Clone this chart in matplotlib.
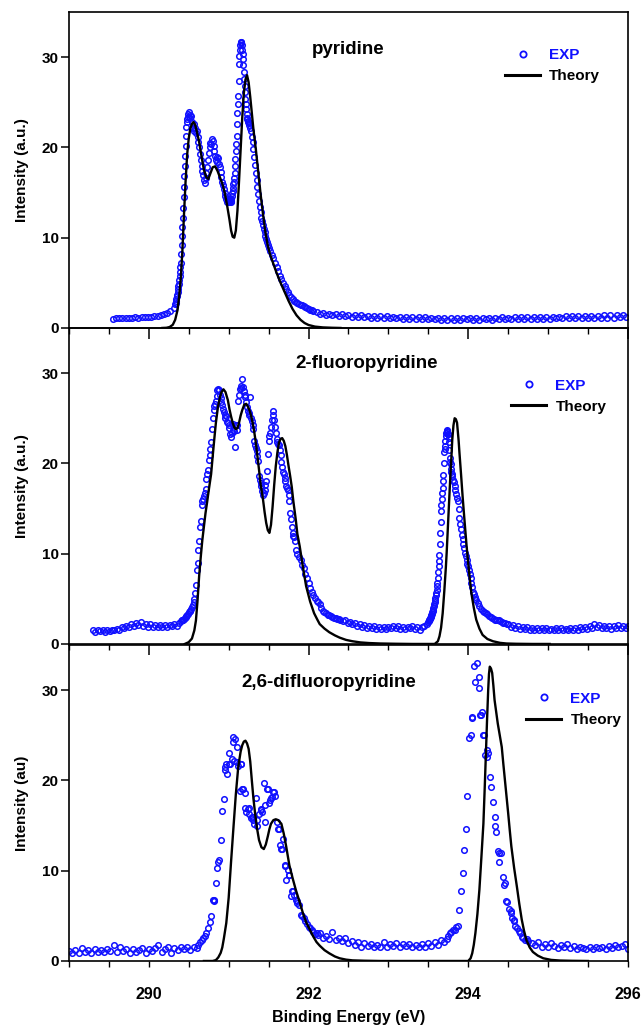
import numpy as np
import matplotlib.pyplot as plt
from matplotlib.lines import Line2D
from matplotlib.ticker import MultipleLocator

plt.rcParams['font.family'] = ['Liberation Sans', 'DejaVu Sans']
plt.rcParams['font.weight'] = 'bold'

# ---------------- pyridine ----------------
# experimental points, stored as (start, step, values) segments
pyr_seg_base_l = (289.55, 0.04, [1.00, 1.10, 1.05, 1.15, 1.05, 1.15, 1.10, 1.20, 1.15, 1.20,
                                 1.20, 1.25, 1.25, 1.30, 1.35, 1.40, 1.50, 1.65, 1.85, 2.20])
pyr_seg_rise = (290.33, 0.005, [2.6, 2.8, 3.0, 3.2, 3.5, 3.7, 4.0, 4.3, 4.6, 4.9,
                                5.3, 5.7, 6.2, 6.7, 7.2, 8.2, 9.2, 10.2, 11.2, 12.2,
                                13.3, 14.5, 15.6, 16.8, 17.9, 19.0, 20.2, 21.3, 22.3, 22.8,
                                23.1, 23.4, 23.7])
pyr_seg_mid = (290.50, 0.01, [23.9, 23.6, 23.2, 23.5, 22.8, 22.2, 22.6, 21.8, 22.2, 21.6,
                              21.8, 21.2, 20.6, 20.0, 19.3, 18.6, 17.9, 17.4, 16.9, 16.4,
                              16.1, 16.6, 17.2, 17.8, 18.6, 19.4, 20.0, 20.5, 20.4, 20.9,
                              20.7, 20.2, 19.6, 19.0, 18.6, 18.9, 18.4, 18.8, 18.2, 17.8,
                              17.3, 16.7, 16.2, 15.8, 15.4, 15.0, 14.6, 14.3, 14.0, 14.2])
pyr_seg_peak = (291.00, 0.005, [13.9, 14.0, 14.1, 14.2, 14.3, 14.1, 14.0, 14.3, 14.6, 14.9,
                                15.2, 15.5, 15.9, 16.2, 16.6, 17.2, 17.9, 18.7, 19.6, 20.4,
                                21.3, 22.6, 23.8, 24.8, 25.7, 27.4, 29.2, 30.1, 30.8, 31.3,
                                31.6, 31.7, 31.7, 31.3, 30.8, 30.3, 29.8, 29.1, 28.4, 27.6,
                                26.8, 26.1, 25.4, 24.8, 24.2, 23.7, 23.3, 23.1, 22.9, 22.8])
pyr_seg_fall = (291.25, 0.01, [22.7, 22.5, 22.2, 21.8, 21.2, 20.6, 19.8, 18.9, 18.0, 17.2,
                               16.4, 15.6, 14.8, 14.1, 13.4, 12.8, 12.2, 11.8, 11.4, 11.0,
                               10.6, 10.2, 9.8, 9.5, 9.2, 8.9])
pyr_seg_tail = (291.52, 0.02, [8.5, 8.1, 7.7, 7.2, 6.7, 6.3, 5.8, 5.4, 5.0, 4.6,
                               4.3, 4.0, 3.7, 3.4, 3.2, 3.0, 2.9, 2.8, 2.7, 2.55,
                               2.5, 2.4, 2.3, 2.2, 2.1, 2.0, 1.95, 1.85])
pyr_seg_base_r = (292.10, 0.04, [1.75, 1.55, 1.70, 1.45, 1.60, 1.40, 1.55, 1.35, 1.50, 1.30,
                                 1.45, 1.25, 1.45, 1.20, 1.40, 1.20, 1.35, 1.15, 1.35, 1.10,
                                 1.30, 1.10, 1.30, 1.05, 1.25, 1.05, 1.25, 1.00, 1.25, 1.00,
                                 1.20, 0.95, 1.20, 0.95, 1.20, 0.95, 1.15, 0.95, 1.15, 0.90,
                                 1.15, 0.90, 1.15, 0.90, 1.15, 0.90, 1.15, 0.95, 1.15, 0.90,
                                 1.15, 0.90, 1.15, 0.95, 1.15, 0.90, 1.15, 0.95, 1.20, 0.95,
                                 1.15, 0.95, 1.20, 0.95, 1.20, 0.95, 1.20, 1.00, 1.20, 1.00,
                                 1.25, 1.00, 1.25, 1.00, 1.25, 1.05, 1.25, 1.05, 1.30, 1.05,
                                 1.30, 1.05, 1.30, 1.10, 1.35, 1.10, 1.35, 1.10, 1.35, 1.15,
                                 1.40, 1.15, 1.40, 1.15, 1.40, 1.20, 1.45, 1.25])
pyr_extra_e = []
pyr_extra_i = []

pyr_th_e = [290.17, 290.22, 290.26, 290.30, 290.33, 290.36, 290.38, 290.40, 290.42, 290.44,
            290.46, 290.48, 290.50, 290.52, 290.54, 290.56, 290.58, 290.60, 290.63, 290.66,
            290.69, 290.72, 290.745, 290.77, 290.80, 290.83, 290.86, 290.89, 290.92, 290.95,
            290.98, 291.01, 291.03, 291.05, 291.07, 291.09, 291.11, 291.13, 291.15, 291.17,
            291.19, 291.21, 291.23, 291.25, 291.27, 291.29, 291.31, 291.34, 291.37, 291.40,
            291.43, 291.46, 291.49, 291.52, 291.56, 291.60, 291.65, 291.70, 291.75, 291.80,
            291.85, 291.90, 291.95, 292.00, 292.08, 292.18, 292.30, 292.40]
pyr_th_i = [0.0, 0.02, 0.1, 0.35, 0.9, 2.0, 3.5, 5.5, 8.5, 12.5,
            16.2, 19.2, 21.0, 22.1, 22.6, 22.8, 22.5, 21.8, 20.6, 19.0,
            17.5, 16.7, 16.5, 17.1, 17.8, 17.9, 17.4, 16.7, 16.0, 15.0,
            13.6, 12.0, 10.8, 10.1, 10.0, 10.8, 13.0, 16.3, 19.8, 23.3,
            26.0, 27.5, 28.0, 27.2, 25.6, 23.8, 22.0, 19.8, 17.3, 14.8,
            12.6, 10.6, 9.1, 8.1, 7.1, 6.1, 5.0, 4.0, 3.0, 2.1,
            1.4, 0.9, 0.55, 0.33, 0.15, 0.06, 0.02, 0.0]

# ---------------- 2-fluoropyridine ----------------
fp_seg_base_l = (289.30, 0.03, [1.5, 1.3, 1.6, 1.4, 1.5, 1.3, 1.6, 1.4, 1.6, 1.5,
                                1.7, 1.6, 1.9, 1.8, 2.0, 1.9, 2.2, 2.0, 2.3, 2.1,
                                2.4, 2.0, 2.2, 1.9, 2.2, 1.9, 2.1, 1.9, 2.1, 1.9,
                                2.1, 1.9, 2.1, 2.0, 2.2, 2.0, 2.3])
fp_seg_peaks = (290.40, 0.01, [2.5, 2.6, 2.7, 2.6, 2.8, 2.9, 3.0, 3.1, 3.2, 3.3,
                               3.5, 3.6, 3.7, 3.9, 4.1, 4.3, 4.6, 5.0, 5.6, 6.5,
                               8.2, 9.0, 10.4, 11.4, 13.0, 13.6, 15.4, 15.8, 16.0, 16.4,
                               16.7, 17.2, 18.3, 18.8, 19.3, 20.4, 20.9, 21.6, 22.4, 23.8,
                               25.0, 25.9, 26.4, 26.6, 26.9, 27.5, 28.1, 28.2, 28.1, 27.6,
                               27.2, 26.8, 26.5, 26.0, 25.7, 25.4, 25.0, 25.2, 24.6, 24.5,
                               24.2, 23.9, 23.3, 22.9, 23.4, 23.7, 24.4, 23.6, 21.8, 24.2,
                               23.7, 24.3, 26.9, 27.6, 28.2, 28.6, 28.4, 29.3, 28.5, 28.0,
                               27.6, 27.3, 26.8, 26.2, 25.8, 25.6, 25.4, 27.4, 25.0, 24.7,
                               24.2, 23.8, 22.5, 22.0, 21.7, 21.4, 20.8, 20.3, 18.6, 18.2,
                               17.8, 17.5, 16.9, 16.5, 16.7, 17.1, 17.6, 18.1, 19.2, 21.0,
                               22.5, 23.0, 23.4, 24.0, 24.8, 25.8, 25.4, 24.8, 24.0, 23.4,
                               22.7, 22.4, 22.2, 22.0, 21.5, 20.9, 20.2, 19.6, 19.1, 18.8,
                               18.4, 18.0, 17.5, 17.3, 17.1, 16.5, 15.8, 14.5, 13.8, 13.0,
                               12.3, 12.0, 11.8, 11.4, 10.4])
fp_seg_tail1 = (291.86, 0.02, [10.0, 9.6, 9.3, 8.8, 8.4, 7.8, 7.3, 6.7, 6.2, 5.8,
                               5.4, 5.1, 4.8, 4.6, 4.4, 4.0, 3.7, 3.5, 3.4, 3.2,
                               3.2, 3.1, 3.0, 2.9, 2.9, 2.8, 2.8, 2.7])
fp_seg_base_m = (292.43, 0.03, [2.5, 2.6, 2.3, 2.4, 2.2, 2.3, 2.0, 2.2, 1.9, 2.1,
                                1.8, 2.0, 1.8, 2.0, 1.7, 1.9, 1.7, 1.9, 1.7, 1.9,
                                1.8, 2.0, 1.8, 2.0, 1.7, 1.9, 1.7, 1.9, 1.8, 2.0,
                                1.7, 1.9, 1.6, 1.9, 2.0, 2.2])
fp_seg_rise2 = (293.50, 0.005, [2.4, 2.5, 2.6, 2.7, 2.8, 2.9, 3.0, 3.1, 3.2, 3.35,
                                3.5, 3.65, 3.8, 4.0, 4.2, 4.4, 4.6, 4.9, 5.1, 5.4,
                                5.6, 6.0, 6.4, 6.8, 7.3, 8.0, 8.6, 9.2, 9.9, 11.1,
                                12.3, 13.5, 14.7, 15.4, 16.0, 16.7, 17.3, 18.0, 18.7, 20.0,
                                21.3, 21.6, 21.9, 22.5, 23.0, 23.4, 23.7, 23.6, 23.5, 23.3,
                                23.2, 22.8, 22.4, 21.5, 20.6, 20.2, 19.9, 19.4, 19.0, 18.8])
fp_seg_fall2 = (293.80, 0.01, [18.6, 18.2, 17.9, 17.5, 17.1, 16.6, 16.2, 15.8, 15.0, 14.0,
                               13.3, 12.7, 12.1, 11.6, 11.1, 10.6, 10.1, 9.7, 9.3, 8.9,
                               8.6, 8.2, 7.7, 7.3, 6.8, 6.3, 5.8, 5.5, 5.2, 5.0,
                               4.9])
fp_seg_tail2 = (294.12, 0.02, [4.5, 4.2, 3.9, 3.7, 3.5, 3.4, 3.3, 3.1, 3.0, 2.9,
                               2.8, 2.7, 2.7, 2.6, 2.5, 2.4, 2.3, 2.3, 2.2])
fp_seg_base_r = (294.50, 0.03, [2.2, 1.9, 2.1, 1.8, 2.0, 1.7, 1.9, 1.7, 1.9, 1.6,
                                1.8, 1.6, 1.8, 1.5, 1.8, 1.6, 1.8, 1.5, 1.7, 1.6,
                                1.8, 1.6, 1.8, 1.5, 1.7, 1.6, 1.8, 1.6, 1.8, 1.6,
                                1.9, 1.7, 1.9, 1.7, 2.0, 1.8, 2.2, 1.9, 2.1, 1.8,
                                2.0, 1.8, 2.0, 1.7, 2.0, 1.8, 2.1, 1.8, 2.0, 1.8,
                                2.0])
fp_extra_e = []
fp_extra_i = []

fp_th_e = [290.45, 290.50, 290.54, 290.57, 290.59, 290.61, 290.63, 290.65, 290.67, 290.69,
           290.71, 290.73, 290.75, 290.78, 290.80, 290.82, 290.84, 290.865, 290.89, 290.91,
           290.935, 290.96, 290.99, 291.01, 291.03, 291.05, 291.07, 291.09, 291.11, 291.13,
           291.15, 291.17, 291.195, 291.22, 291.24, 291.26, 291.28, 291.30, 291.32, 291.34,
           291.36, 291.38, 291.40, 291.43, 291.45, 291.47, 291.49, 291.51, 291.53, 291.55,
           291.57, 291.59, 291.61, 291.63, 291.65, 291.67, 291.69, 291.71, 291.73, 291.75,
           291.77, 291.79, 291.81, 291.84, 291.86, 291.89, 291.93, 291.97, 292.02, 292.07,
           292.11, 292.14, 292.20, 292.26, 292.33, 292.39, 292.47, 292.55, 292.65, 292.76,
           292.90, 293.10, 293.30, 293.58, 293.62, 293.64, 293.66, 293.68, 293.70, 293.72,
           293.73, 293.75, 293.77, 293.79, 293.80, 293.815, 293.83, 293.845, 293.86, 293.88,
           293.89, 293.91, 293.93, 293.955, 293.98, 294.01, 294.04, 294.07, 294.10, 294.14,
           294.18, 294.24, 294.31, 294.40, 294.48, 294.60, 294.80, 295.02]
fp_th_i = [0.0, 0.2, 0.6, 1.5, 2.6, 4.8, 7.5, 9.6, 11.5, 13.0,
           14.5, 15.7, 17.0, 18.8, 20.8, 22.7, 24.5, 26.2, 27.3, 27.9,
           28.2, 27.9, 27.0, 26.0, 25.2, 24.5, 24.0, 23.8, 23.9, 24.5,
           25.3, 25.9, 26.5, 26.6, 26.3, 25.9, 25.3, 24.5, 23.5, 22.3,
           20.8, 19.3, 17.7, 16.0, 14.6, 13.4, 12.6, 12.3, 13.2, 15.2,
           17.6, 19.7, 21.2, 22.3, 22.7, 22.8, 22.5, 21.9, 20.9, 19.7,
           18.6, 17.4, 15.8, 13.8, 12.2, 10.8, 8.5, 6.4, 4.7, 3.4,
           2.7, 2.2, 1.7, 1.3, 0.95, 0.7, 0.45, 0.3, 0.17, 0.1,
           0.05, 0.02, 0.0, 0.0, 0.3, 0.85, 1.8, 3.4, 5.8, 8.5,
           10.1, 13.8, 17.5, 20.8, 22.6, 24.2, 25.0, 24.9, 24.5, 22.5,
           21.2, 18.8, 16.3, 13.5, 10.8, 8.0, 5.6, 4.0, 2.7, 1.7,
           1.0, 0.55, 0.3, 0.12, 0.05, 0.02, 0.0, 0.0]

# ---------------- 2,6-difluoropyridine ----------------
dfp_seg_base_l = (289.00, 0.04, [1.1, 0.9, 1.2, 0.9, 1.4, 1.0, 1.2, 0.9, 1.3, 1.0,
                                 1.2, 1.0, 1.3, 1.1, 1.8, 1.0, 1.5, 1.1, 1.3, 0.9,
                                 1.3, 1.0, 1.2, 1.4, 0.9, 1.3, 1.1, 1.4, 1.8, 1.0,
                                 1.3, 1.5, 0.9, 1.4, 1.2, 1.6, 1.3, 1.6, 1.2, 1.6,
                                 1.4])
dfp_seg_peaks = (290.62, 0.02, [1.8, 2.1, 2.3, 2.6, 2.8, 3.1, 3.6, 4.3, 5.0, 6.7,
                                6.6, 8.6, 10.3, 11.2, 13.4, 16.6, 17.9, 21.2, 20.7, 23.0,
                                21.8, 22.4, 24.8, 24.6, 23.7, 21.6, 18.8, 21.8, 19.0, 18.6,
                                16.5, 16.8, 16.3, 15.8, 16.0, 15.2, 18.0, 15.6, 16.3, 16.8,
                                16.5, 19.7, 15.4, 19.0, 17.5, 17.8, 18.2, 18.7, 18.3, 15.4,
                                14.6, 12.9, 12.4, 13.5, 10.5, 9.0, 10.1, 9.5, 7.2, 7.8,
                                7.3, 6.8, 6.4, 6.2, 5.1, 5.0, 4.8, 4.4, 4.1, 3.8,
                                3.6, 3.4, 3.2, 3.0, 3.1, 2.9])
dfp_seg_base_m = (292.14, 0.04, [3.1, 2.6, 2.8, 2.4, 3.2, 2.3, 2.5, 2.2, 2.5, 2.0,
                                 2.2, 1.8, 2.1, 1.6, 2.0, 1.7, 1.9, 1.5, 1.8, 1.6,
                                 2.1, 1.6, 1.9, 1.7, 2.0, 1.6, 1.9, 1.7, 1.9, 1.6,
                                 1.8, 1.6, 1.9, 1.6, 2.0, 1.7, 2.1, 1.8, 2.3, 2.1])
dfp_seg_peak2 = (293.73, 0.02, [2.4, 2.8, 3.1, 3.2, 3.4, 3.4, 3.8, 3.9, 5.6, 7.8,
                                9.7, 12.3, 14.6, 18.3, 24.7, 25.0, 26.9, 32.7, 30.9, 33.0,
                                30.2, 27.2, 27.6, 25.0, 22.8, 23.4, 23.0, 20.4, 19.3, 17.6,
                                15.9, 14.3, 12.2, 11.0, 12.0, 9.3, 8.4, 6.6, 6.5, 5.8,
                                5.3, 4.8, 4.4, 3.9, 3.6, 3.3, 3.1, 2.7, 2.5, 2.3,
                                2.4, 2.2])
dfp_seg_base_r = (294.80, 0.04, [2.0, 1.8, 2.1, 1.6, 1.9, 1.6, 2.0, 1.7, 1.4, 1.8,
                                 1.5, 1.9, 1.4, 1.7, 1.3, 1.6, 1.4, 1.3, 1.6, 1.3,
                                 1.5, 1.4, 1.6, 1.3, 1.7, 1.4, 1.8, 1.5, 1.7, 1.9,
                                 1.3])
dfp_extra_e = [290.82, 290.87, 290.95, 290.97, 291.01, 291.05, 291.07, 291.11, 291.15, 291.17,
               291.21, 291.25, 291.29, 291.31, 291.35, 291.41, 291.45, 291.49, 291.53, 291.57,
               291.63, 291.67, 291.71, 291.75, 291.79, 291.85,
               294.05, 294.14, 294.16, 294.20, 294.24, 294.34, 294.38, 294.46, 294.53, 294.57]
dfp_extra_i = [6.7, 11.0, 21.5, 21.8, 21.8, 24.2, 22.1, 22.0, 21.8, 19.0,
               17.0, 17.0, 16.0, 15.6, 15.0, 16.7, 17.3, 19.0, 18.0, 18.7,
               14.6, 12.4, 10.6, 9.5, 7.8, 6.6,
               27.0, 31.5, 27.3, 25.0, 22.6, 15.0, 12.0, 8.6, 5.5, 4.5]

dfp_th_e = [290.69, 290.80, 290.84, 290.87, 290.90, 290.92, 290.94, 290.97, 291.00, 291.03,
            291.06, 291.09, 291.12, 291.15, 291.17, 291.19, 291.21, 291.23, 291.25, 291.27,
            291.29, 291.31, 291.33, 291.355, 291.38, 291.41, 291.44, 291.465, 291.49, 291.51,
            291.53, 291.56, 291.59, 291.62, 291.66, 291.69, 291.72, 291.76, 291.80, 291.84,
            291.89, 291.93, 291.97, 292.02, 292.06, 292.10, 292.14, 292.20, 292.26, 292.33,
            292.39, 292.47, 292.55, 292.70, 292.90, 294.00, 294.03, 294.05, 294.07, 294.09,
            294.115, 294.14, 294.165, 294.19, 294.205, 294.22, 294.235, 294.25, 294.26, 294.27,
            294.285, 294.30, 294.315, 294.33, 294.35, 294.37, 294.395, 294.42, 294.44, 294.46,
            294.48, 294.50, 294.52, 294.54, 294.575, 294.61, 294.64, 294.67, 294.70, 294.73,
            294.77, 294.81, 294.87, 294.94, 295.04, 295.15, 295.30, 295.50]
dfp_th_i = [0.0, 0.0, 0.1, 0.4, 0.9, 1.5, 2.5, 4.2, 7.0, 11.0,
            14.8, 18.5, 21.5, 23.2, 23.9, 24.3, 24.4, 24.1, 23.5, 22.1,
            20.0, 18.0, 16.4, 14.7, 13.4, 12.6, 12.4, 12.9, 13.8, 14.6,
            15.2, 15.6, 15.7, 15.6, 15.2, 14.1, 12.7, 10.6, 9.2, 7.9,
            6.5, 5.3, 4.3, 3.4, 2.7, 2.1, 1.7, 1.2, 0.85, 0.5,
            0.3, 0.15, 0.07, 0.03, 0.0, 0.0, 0.3, 0.85, 1.8, 3.1,
            5.2, 7.9, 11.5, 15.2, 18.8, 22.6, 26.5, 30.0, 31.8, 32.6,
            32.4, 31.9, 30.5, 28.9, 27.6, 26.3, 25.0, 23.7, 21.8, 20.0,
            18.2, 16.4, 14.5, 12.7, 10.3, 8.2, 6.3, 4.6, 3.3, 2.3,
            1.5, 1.0, 0.6, 0.3, 0.12, 0.05, 0.02, 0.0]

titles = ['pyridine', '2-fluoropyridine', '2,6-difluoropyridine']
ylabels = ['Intensity (a.u.)', 'Intensity (a.u.)', 'Intensity (au)']


def unpack(segments, extra_e, extra_i):
    es, vs = [], []
    for start, step, vals in segments:
        es.append(start + step * np.arange(len(vals)))
        vs.append(np.array(vals))
    es.append(np.array(extra_e, dtype=float))
    vs.append(np.array(extra_i, dtype=float))
    return np.concatenate(es), np.concatenate(vs)


panels = [
    (unpack([pyr_seg_base_l, pyr_seg_rise, pyr_seg_mid, pyr_seg_peak, pyr_seg_fall,
             pyr_seg_tail, pyr_seg_base_r], pyr_extra_e, pyr_extra_i), (pyr_th_e, pyr_th_i)),
    (unpack([fp_seg_base_l, fp_seg_peaks, fp_seg_tail1, fp_seg_base_m, fp_seg_rise2,
             fp_seg_fall2, fp_seg_tail2, fp_seg_base_r], fp_extra_e, fp_extra_i), (fp_th_e, fp_th_i)),
    (unpack([dfp_seg_base_l, dfp_seg_peaks, dfp_seg_base_m, dfp_seg_peak2, dfp_seg_base_r],
            dfp_extra_e, dfp_extra_i), (dfp_th_e, dfp_th_i)),
]

# layout (figure fractions)
bottoms = [0.6816, 0.3748, 0.0670]
title_pos = [(0.499, 0.882), (0.532, 0.887), (0.465, 0.881)]
legend_pos = [(0.780, 0.886), (0.791, 0.840), (0.818, 0.852)]

fig = plt.figure(figsize=(6.41, 10.30), dpi=100)

for k in range(3):
    (exp_e, exp_i), (th_e, th_i) = panels[k]
    ax = fig.add_axes([0.1076, bottoms[k], 0.872, 0.3068], facecolor='none')
    ax.plot(exp_e, exp_i, 'o', ls='none', mfc='none', mec='#1010ff', ms=4.0, mew=1.1)
    ax.plot(th_e, th_i, color='black', lw=1.7)

    ax.set_xlim(289, 296)
    ax.set_ylim(0, 35)
    ax.set_yticks([0, 10, 20, 30])
    ax.xaxis.set_major_locator(MultipleLocator(2))
    ax.xaxis.set_minor_locator(MultipleLocator(0.5))
    for s in ax.spines.values():
        s.set_linewidth(1.2)
    ax.tick_params(axis='y', direction='out', length=5.8, width=1.1, labelsize=11, pad=1.5)
    if k < 2:
        ax.tick_params(axis='x', which='major', direction='out', length=8, width=1.1,
                       labelbottom=False)
        ax.tick_params(axis='x', which='minor', direction='out', length=4.3, width=1.0)
    else:
        ax.tick_params(axis='x', which='both', direction='out', length=4.5, width=1.0,
                       labelsize=11.5, pad=14)
        ax.set_xlabel('Binding Energy (eV)', fontsize=11.5, fontweight='bold', labelpad=6)

    ax.set_ylabel(ylabels[k], fontsize=11, fontweight='bold', labelpad=9)
    ax.text(title_pos[k][0], title_pos[k][1], titles[k], transform=ax.transAxes,
            ha='center', va='center', fontsize=13.5, fontweight='bold')

    handles = [Line2D([], [], marker='o', ls='none', mfc='none', mec='#1010ff', ms=4.5, mew=1.3),
               Line2D([], [], color='black', lw=2.2)]
    ax.legend(handles, ['EXP', 'Theory'], loc='upper left', bbox_to_anchor=legend_pos[k],
              frameon=False, borderpad=0, borderaxespad=0, handlelength=2.3,
              handletextpad=0.6, labelspacing=0.48, numpoints=1,
              prop={'weight': 'bold', 'size': 11}, labelcolor=['#1010ff', 'black'])

fig.savefig('out.png', dpi=100)
